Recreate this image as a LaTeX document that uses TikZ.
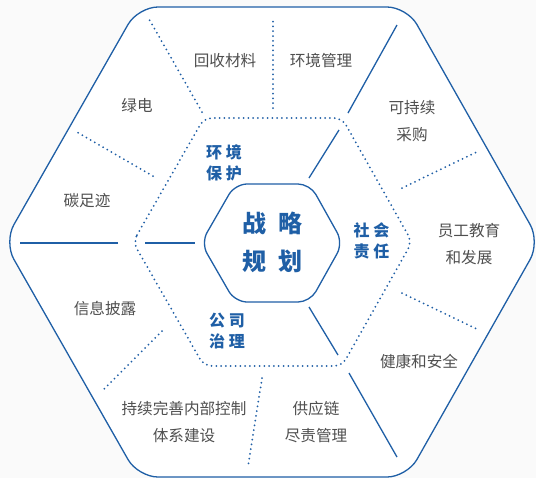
\documentclass[tikz,border=0pt]{standalone}
\usepackage{fontspec}
\setmainfont{Noto Sans CJK SC}
\usepackage{tikz}
\usetikzlibrary{positioning}
\usepackage{xcolor}
\definecolor{esgblue}{HTML}{1F5FA6}
\definecolor{esggray}{HTML}{4F4F4F}
\tikzset{%
	ring label/.style={
		text=esggray,
		font=\fontsize{7.8}{13.5}\selectfont,
		align=center,
		inner sep=0pt
	},
	pillar label/.style={
		text=esgblue,
		font=\fontsize{8}{10.5}\selectfont\bfseries,
		align=center,
		inner sep=0pt
	},
	core label/.style={
		text=esgblue,
		font=\fontsize{12}{19}\selectfont\bfseries,
		align=center,
		inner sep=0pt
	},
	solid rule/.style={
		draw=esgblue,
		line width=0.65pt
	},
	dot rule/.style={
		draw=esgblue,
		line width=1pt,
		line cap=round,
		dash pattern=on 0pt off 2.4pt
	},
}

\begin{document}
\begin{tikzpicture}[x=0.5pt, y=-0.5pt]
			% Page
			\fill[black!2] (0,0) rectangle (536,478);
			\useasboundingbox (0,0) rectangle (536,478);
			
			% Corners of the outer hexagon
			\coordinate (o1) at (4,242);
			\coordinate (o2) at (138,7);
			\coordinate (o3) at (407,7);
			\coordinate (o4) at (540,242);
			\coordinate (o5) at (407,477);
			\coordinate (o6) at (138,477);
			
			% Corners of the dotted hexagon
			\coordinate (d1) at (133,242);
			\coordinate (d2) at (204,118);
			\coordinate (d3) at (342,118);
			\coordinate (d4) at (412,242);
			\coordinate (d5) at (342,366);
			\coordinate (d6) at (204,366);
			
			% Corners of the inner hexagon
			\coordinate (i1) at (201,243);
			\coordinate (i2) at (235,184);
			\coordinate (i3) at (310,184);
			\coordinate (i4) at (343,243);
			\coordinate (i5) at (310,302);
			\coordinate (i6) at (235,302);
			
			% Draw the three hexagons
			\draw[solid rule, fill=white, rounded corners=10pt] (o1) -- (o2) -- (o3) -- (o4) -- (o5) -- (o6) -- cycle;
			\draw[dot rule, rounded corners=4pt] (d1) -- (d2) -- (d3) -- (d4) -- (d5) -- (d6) -- cycle;
			\draw[solid rule, rounded corners=6pt] (i1) -- (i2) -- (i3) -- (i4) -- (i5) -- (i6) -- cycle;
			
			% Spokes between inner and dotted hexagon
			\coordinate (sa1) at (145,243); \coordinate (sa2) at (195,243);
			\coordinate (sb1) at (309,178); \coordinate (sb2) at (339,130);
			\coordinate (sc1) at (309,307); \coordinate (sc2) at (338,355);
			\draw[solid rule] (sa1) -- (sa2);
			\draw[solid rule] (sb1) -- (sb2);
			\draw[solid rule] (sc1) -- (sc2);
			
			% Solid dividers of the outer ring
			\coordinate (ra1) at (118,243); \coordinate (ra2) at (20,243);
			\coordinate (rb1) at (348,113); \coordinate (rb2) at (397,25);
			\coordinate (rc1) at (349,373); \coordinate (rc2) at (397,457);
			\draw[solid rule] (ra1) -- (ra2);
			\draw[solid rule] (rb1) -- (rb2);
			\draw[solid rule] (rc1) -- (rc2);
			
			% Dotted dividers of the outer ring
			\coordinate (ta1) at (202,112); \coordinate (ta2) at (149,19);
			\coordinate (tb1) at (273,108); \coordinate (tb2) at (273,18);
			\coordinate (tc1) at (402,188); \coordinate (tc2) at (479,151);
			\coordinate (td1) at (402,293); \coordinate (td2) at (479,330);
			\coordinate (te1) at (262,378); \coordinate (te2) at (248,467);
			\coordinate (tf1) at (162,331); \coordinate (tf2) at (102,391);
			\coordinate (tg1) at (153,176); \coordinate (tg2) at (75,131);
			\draw[dot rule] (ta1) -- (ta2);
			\draw[dot rule] (tb1) -- (tb2);
			\draw[dot rule] (tc1) -- (tc2);
			\draw[dot rule] (td1) -- (td2);
			\draw[dot rule] (te1) -- (te2);
			\draw[dot rule] (tf1) -- (tf2);
			\draw[dot rule] (tg1) -- (tg2);
			
			% Centre
			\node[core label] (plan) at (272.5,242) {战\hspace{0.5em}略\\规\hspace{0.5em}划};
			
			% Three pillars
			\node[pillar label] (environ) at (224,163) {环 境\\保 护};
			\node[pillar label] (social) at (371.5,241) {社 会\\责 任};
			\node[pillar label] (govern) at (227,331) {公 司\\治 理};
			
			% Topics of the outer ring
			\node[ring label] (recycle) at (225,61) {回收材料};
			\node[ring label] (envmgmt) at (321,61) {环境管理};
			\node[ring label] (greenpower) at (137,106) {绿电};
			\node[ring label] (procure) at (412,121) {可持续\\采购};
			\node[ring label] (carbon) at (87,201) {碳足迹};
			\node[ring label] (staff) at (469,244.5) {员工教育\\和发展};
			\node[ring label] (disclose) at (105,309) {信息披露};
			\node[ring label] (safety) at (419,361) {健康和安全};
			\node[ring label] (control) at (184,422) {持续完善内部控制\\体系建设};
			\node[ring label] (supply) at (316,422.5) {供应链\\尽责管理};
			
		\end{tikzpicture}
\end{document}
